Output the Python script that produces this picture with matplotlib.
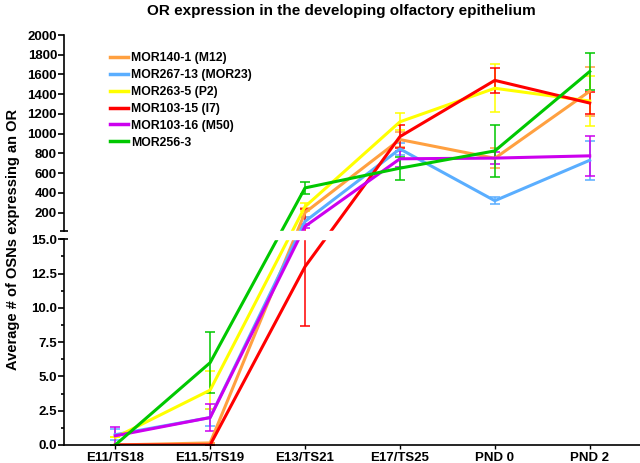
import numpy as np
import matplotlib
matplotlib.use("Agg")
import matplotlib.pyplot as plt
from matplotlib.lines import Line2D
from matplotlib.ticker import FuncFormatter, FixedLocator

plt.rcParams['font.family'] = ['Liberation Sans', 'DejaVu Sans']
plt.rcParams['font.weight'] = 'bold'
plt.rcParams['axes.labelweight'] = 'bold'

stages = ["E11/TS18", "E11.5/TS19", "E13/TS21", "E17/TS25", "PND 0", "PND 2"]

names = ["MOR140-1 (M12)", "MOR267-13 (MOR23)", "MOR263-5 (P2)",
         "MOR103-15 (I7)", "MOR103-16 (M50)", "MOR256-3"]

m12_mean = [0.0, 0.15, 200, 940, 750, 1430]
m12_lo = [0.0, 0.0, 50, 80, 100, 250]
m12_hi = [0.0, 0.0, 50, 80, 100, 250]
mor23_mean = [0.75, 2.0, 110, 845, 320, 730]
mor23_lo = [0.42, 0.6, 40, 60, 37, 195]
mor23_hi = [0.42, 0.6, 40, 60, 37, 195]
p2_mean = [0.55, 4.0, 260, 1120, 1460, 1330]
p2_lo = [0.0, 1.4, 40, 85, 242, 250]
p2_hi = [0.0, 1.4, 40, 85, 242, 250]
i7_mean = [0.0, 0.0, 13.0, 970, 1540, 1310]
i7_lo = [0.0, 0.0, 4.3, 120, 125, 112]
i7_hi = [0.0, 0.0, 225, 120, 125, 112]
m50_mean = [0.67, 2.0, 60, 745, 752, 775]
m50_lo = [0.67, 1.0, 20, 80, 60, 200]
m50_hi = [0.67, 1.0, 20, 80, 60, 200]
mor256_mean = [0.0, 6.0, 450, 650, 825, 1630]
mor256_lo = [0.0, 2.2, 58, 115, 267, 185]
mor256_hi = [0.0, 2.2, 58, 115, 267, 185]

colors = ["#FFA040", "#5AAEFF", "#FFFF00", "#FF0000", "#CC00EE", "#00C800"]

means = [m12_mean, mor23_mean, p2_mean, i7_mean, m50_mean, mor256_mean]
los = [m12_lo, mor23_lo, p2_lo, i7_lo, m50_lo, mor256_lo]
his = [m12_hi, mor23_hi, p2_hi, i7_hi, m50_hi, mor256_hi]

# segmented y axis: 0-15 in the lower part, 15-2000 in the upper part
LOW_TOP = 15.0
LOW_H = 205.7
GAP = 8.4
UP_K = 0.0986


def fwd(v):
    v = np.asarray(v, dtype=float)
    return np.where(v <= LOW_TOP, v * LOW_H / LOW_TOP,
                    LOW_H + GAP + (v - LOW_TOP) * UP_K)


def inv(u):
    u = np.asarray(u, dtype=float)
    return np.where(u <= LOW_H, u * LOW_TOP / LOW_H,
                    np.where(u < LOW_H + GAP, LOW_TOP,
                             LOW_TOP + (u - LOW_H - GAP) / UP_K))


fig = plt.figure(figsize=(6.4, 4.63), dpi=100)
ax = fig.add_axes([0.1, 0.0389, 0.9, 0.8855])
ax.set_yscale('function', functions=(fwd, inv))

x = np.arange(len(stages))
for col, m, lo, hi in zip(colors, means, los, his):
    ax.errorbar(x, m, yerr=[lo, hi], color=col, lw=2.2, elinewidth=1.1,
                capsize=3.5, capthick=1.1)

ax.set_xlim(-0.54, 5.53)
ax.set_ylim(0, 2000)

# white band for the axis break
ax.axhspan(LOW_TOP, LOW_TOP + 1e-6, color='white', zorder=10)

low_ticks = [0, 2.5, 5, 7.5, 10, 12.5, 15]
up_ticks = [200, 400, 600, 800, 1000, 1200, 1400, 1600, 1800, 2000]
ax.yaxis.set_major_locator(FixedLocator(low_ticks + up_ticks))
ax.yaxis.set_minor_locator(FixedLocator([1.25, 3.75, 6.25, 8.75, 11.25, 13.75]))
ax.yaxis.set_major_formatter(FuncFormatter(
    lambda v, p: f"{v:.1f}" if v <= LOW_TOP + 0.01 else f"{v:.0f}"))
ax.tick_params(axis='y', which='major', length=4, width=1.2, labelsize=9.5, pad=1)
ax.tick_params(axis='y', which='minor', length=2.5, width=1.2)
ax.set_xticks(x)
ax.set_xticklabels(stages)
ax.tick_params(axis='x', length=3, width=1, labelsize=9.5, pad=2)

for s in ['top', 'right', 'left']:
    ax.spines[s].set_visible(False)
ax.spines['bottom'].set_linewidth(1.2)

ytr = ax.get_yaxis_transform()
ax.plot([0, 0], [0, LOW_TOP], color='black', lw=1.2, transform=ytr, clip_on=False, zorder=11)
ax.plot([0, 0], [LOW_TOP + 1e-6, 2000], color='black', lw=1.2, transform=ytr, clip_on=False, zorder=11)
ax.plot([0, 0], [LOW_TOP, LOW_TOP + 1e-6], ls='none', marker='_', ms=6, mew=1.2,
        color='black', transform=ytr, clip_on=False, zorder=11)

ax.set_ylabel("Average # of OSNs expressing an OR", fontsize=10.5, labelpad=5)

handles = [Line2D([], [], color=c, lw=2.5) for c in colors]
ax.legend(handles, names, loc='upper left', bbox_to_anchor=(0.06, 0.985), frameon=False,
          fontsize=8.8, handlelength=1.5, handletextpad=0.25, labelspacing=0.4)

fig.text(0.533, 0.976, "OR expression in the developing olfactory epithelium",
         ha='center', va='center', fontsize=11, fontweight='bold')

fig.savefig("out.png", dpi=100)
